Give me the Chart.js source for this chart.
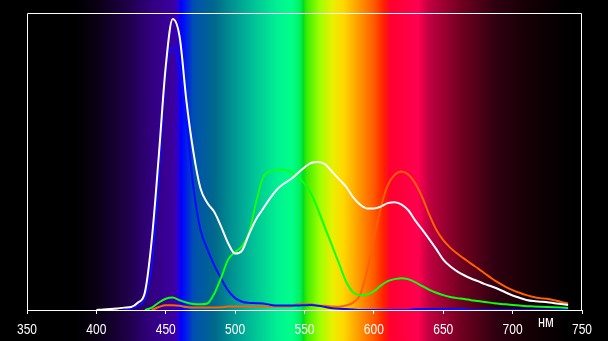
<!DOCTYPE html>
<html>
<head>
<meta charset="utf-8">
<script src="https://cdn.jsdelivr.net/npm/chart.js@4"></script>
<style>
  html, body { margin: 0; padding: 0; background: #000; }
  canvas { display: block; }
</style>
</head>
<body>
<canvas id="spectrumChart" width="608" height="341"></canvas>
<script>
// wavelengths, nm
const wavelengths = [400, 405, 410, 415, 420, 425, 430, 435, 440, 445, 450, 455, 460, 465, 470, 475, 480, 485, 490, 495,
  500, 505, 510, 515, 520, 525, 530, 535, 540, 545, 550, 555, 560, 565, 570, 575, 580, 585, 590, 595,
  600, 605, 610, 615, 620, 625, 630, 635, 640, 645, 650, 655, 660, 665, 670, 675, 680, 685, 690, 695,
  700, 705, 710, 715, 720, 725, 730, 735, 740];

const whiteValues = [0, 0.2, 0.3, 0.5, 0.8, 1, 2.5, 6, 24, 52, 82, 98, 92, 70, 53, 41, 36, 33, 28, 22.5,
  19, 20, 25.5, 30.5, 34, 37.5, 40.5, 42.5, 44, 46, 48, 49.6, 49.8, 49, 46.5, 44, 41.5, 38, 35.5, 34.2,
  34.2, 34.8, 36, 36.3, 35.5, 33.5, 30, 27, 23.8, 20.5, 17, 14.7, 13, 11.7, 10.6, 9.7, 8.7, 7.9, 7, 5.9,
  4.9, 4.1, 3.4, 3, 2.8, 2.6, 2.3, 2, 1.7];

const blueValues = [null, null, null, null, 0, 0.5, 1.5, 4, 15, 45, 80, 88.5, 81, 63.5, 41, 27, 20.5, 15, 10.5, 6.5,
  4, 2.8, 2.4, 2.3, 2.2, 1.8, 1.5, 1.5, 1.5, 1.5, 1.6, 1.7, 1.4, 1, 0.6, 0.4, 0.3, 0.2, 0, 0,
  0, 0, 0, 0, 0, 0, 0.3, 0.3, 0.3, 0.3, 0.3, 0.3, 0.3, 0.3, 0, 0, 0, 0, 0, 0,
  0, 0, 0, 0, 0, 0, 0, 0, 0];

const greenValues = [null, null, null, null, null, null, null, 0, 0.8, 2.5, 3.8, 4.2, 3.3, 2.5, 2, 1.9, 2.2, 5.5, 11, 17,
  19.5, 21.5, 26, 36, 44.5, 46.6, 47, 47.3, 46.5, 45, 42.5, 39, 33.5, 27.5, 21.5, 15.5, 9.5, 6, 5, 5.2,
  6.3, 8.2, 9.7, 10.4, 10.7, 10.3, 9.3, 8, 6.8, 5.8, 5, 4.4, 4, 3.7, 3.3, 3, 2.7, 2.4, 2.1, 1.9,
  1.7, 1.5, 1.3, 1.2, 1.1, 1, 0.9, 0.8, 0.7];

const orangeValues = [null, null, null, null, null, null, null, null, 0, 1, 1.6, 1.6, 1.4, 1, 0.8, 0.8, 0.8, 0.8, 0.9, 1.2,
  1.2, 1.2, 1.2, 1.2, 1.2, 1.2, 1.2, 1.2, 1.2, 1.9, 1.9, 1.9, 1.4, 1.4, 1.2, 1.1, 1.5, 2.5, 5, 13,
  24, 34.5, 42, 45.5, 46.6, 45.5, 42.5, 37.8, 32, 27, 23.5, 21, 19, 17.3, 15.6, 14, 12.3, 10.6, 9.1, 7.8,
  6.7, 5.8, 5, 4.4, 4, 3.8, 3.3, 2.7, 2.2];

const xTicks = [350, 400, 450, 500, 550, 600, 650, 700, 750];
const unitLabel = "нм";

const toPoints = (vals) => wavelengths.map((w, i) => ({ x: w, y: vals[i] }));

// spectrum colours behind the plot, by wavelength
const spectrumStops = [
  [350, "#000000"], [385, "#000000"], [400, "#0a0014"], [420, "#1c0040"], [440, "#320080"],
  [456, "#3c00a0"], [459, "#2a00d0"], [461, "#0000ff"], [464, "#0018f0"], [470, "#0050b0"],
  [485, "#00688c"], [495, "#008a90"], [510, "#00b898"], [530, "#00f092"], [541, "#00ff88"],
  [547, "#00f060"], [549, "#00dd22"], [552, "#40ee00"], [561, "#a0ff00"], [570, "#e8f000"],
  [578, "#ffd800"], [588, "#ffa000"], [600, "#ff5a00"], [607, "#ff2000"], [612, "#ff0030"],
  [625, "#ff0044"], [632, "#ff0050"], [640, "#c00040"], [663, "#700020"], [687, "#300010"],
  [711, "#150005"], [740, "#000000"], [750, "#000000"]
];

const labelFont = "15px 'Liberation Sans', Arial";
const unitFont = "16px 'Liberation Sans', Arial";

// narrow text: squeeze horizontally like the original's condensed font
function narrowText(ctx, text, x, y) {
  ctx.save();
  ctx.translate(x, y);
  ctx.scale(0.8, 1);
  ctx.fillText(text, 0, 0);
  ctx.restore();
}

const spectrumBackground = {
  id: "spectrumBackground",
  beforeDraw(chart) {
    const { ctx, width, height, scales: { x } } = chart;
    const grad = ctx.createLinearGradient(0, 0, width, 0);
    spectrumStops.forEach(([nm, col]) => {
      const pos = x.getPixelForValue(nm) / width;
      grad.addColorStop(Math.min(1, Math.max(0, pos)), col);
    });
    ctx.save();
    ctx.fillStyle = "#000";
    ctx.fillRect(0, 0, width, height);
    ctx.fillStyle = grad;
    ctx.fillRect(0, 0, width, height);
    ctx.restore();
  },
  beforeDatasetsDraw(chart) {
    const { ctx, chartArea: a } = chart;
    ctx.save();
    ctx.strokeStyle = "#fff";
    ctx.lineWidth = 1;
    ctx.beginPath();
    ctx.moveTo(Math.round(a.left) + 0.5, Math.round(a.bottom));
    ctx.lineTo(Math.round(a.left) + 0.5, Math.round(a.top) + 0.5);
    ctx.lineTo(Math.round(a.right) - 0.5, Math.round(a.top) + 0.5);
    ctx.lineTo(Math.round(a.right) - 0.5, Math.round(a.bottom));
    ctx.stroke();
    ctx.restore();
  },
  afterDraw(chart) {
    const { ctx, scales: { x } } = chart;
    ctx.save();
    ctx.fillStyle = "#fff";
    ctx.textAlign = "center";
    ctx.textBaseline = "alphabetic";
    ctx.font = labelFont;
    xTicks.forEach((v) => narrowText(ctx, String(v), x.getPixelForValue(v), x.top + 24));
    ctx.font = unitFont;
    narrowText(ctx, unitLabel, x.getPixelForValue(724), x.top + 17);
    ctx.restore();
  }
};

const lineStyle = { borderWidth: 2, pointRadius: 0, fill: false, cubicInterpolationMode: "monotone", spanGaps: false };

const spectrumChart = new Chart(document.getElementById("spectrumChart"), {
  type: "line",
  data: {
    datasets: [
      { label: "white", data: toPoints(whiteValues), borderColor: "#ffffff", ...lineStyle },
      { label: "green", data: toPoints(greenValues), borderColor: "#10ff10", ...lineStyle },
      { label: "blue", data: toPoints(blueValues), borderColor: "#0a0aff", ...lineStyle },
      { label: "red", data: toPoints(orangeValues), borderColor: "#ff6000", ...lineStyle },
    ],
  },
  options: {
    responsive: false,
    animation: false,
    devicePixelRatio: 1,
    layout: { padding: { left: 27, right: 26, top: 13, bottom: 0 } },
    scales: {
      x: {
        type: "linear",
        min: 350,
        max: 750,
        afterBuildTicks: (scale) => { scale.ticks = xTicks.map((v) => ({ value: v })); },
        afterFit: (scale) => { scale.height = 31; },
        border: { display: true, color: "#fff", width: 1 },
        grid: { display: true, drawOnChartArea: false, drawTicks: true, tickLength: 4, color: "#fff", tickColor: "#fff" },
        ticks: { display: false },
      },
      y: { display: false, min: 0, max: 100 },
    },
    plugins: {
      legend: { display: false },
      tooltip: { enabled: false },
    },
  },
  plugins: [spectrumBackground],
});
</script>
</body>
</html>
